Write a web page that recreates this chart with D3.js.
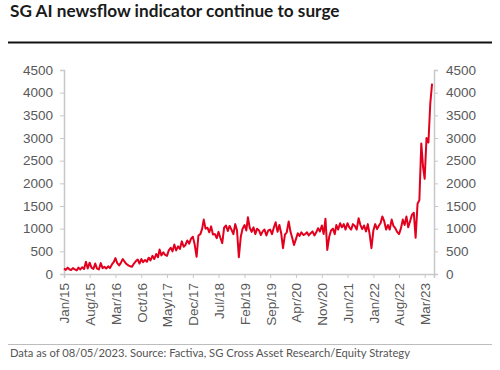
<!DOCTYPE html>
<html>
<head>
<meta charset="utf-8">
<script src="https://cdn.jsdelivr.net/npm/d3@7"></script>
<style>
	body { margin: 0; background: #fff; }
	svg { display: block; }
	.axis text { font-family: "Liberation Sans", Arial, sans-serif; font-size: 13.5px; fill: #595959; }
	.axis path, .axis line { stroke: #c8c8c8; }
</style>
</head>
<body>
<script>
	// chart texts
	var title = "SG AI newsflow indicator continue to surge";
	var footnote = "Data as of 08/05/2023. Source: Factiva, SG Cross Asset Research/Equity Strategy";

	// series starts Jan 2015, two readings per month (1st and 16th)
	var startMonth = "2015-01";
	var values = [
		// 2015
		120, 90, 140, 100, 90, 130, 100, 80, 140, 100, 150, 110,
		270, 120, 250, 140, 110, 230, 120, 100, 240, 130, 160, 120,
		// 2016
		170, 130, 210, 260, 350, 240, 190, 250, 330, 270, 220, 190,
		170, 160, 230, 280, 320, 230, 330, 260, 310, 270, 360, 300,
		// 2017
		400, 330, 440, 370, 540, 410, 480, 420, 400, 520, 580, 500,
		650, 520, 610, 550, 720, 600, 640, 740, 670, 780, 820, 650,
		// 2018
		380, 850, 880, 1000, 1200, 1000, 1020, 920, 1050, 870, 880, 790,
		930, 800, 680, 1020, 1070, 950, 1060, 980, 880, 1100, 960, 370,
		// 2019
		820, 1000, 1080, 960, 1250, 1020, 930, 1030, 880, 1000, 960, 860,
		940, 980, 850, 960, 980, 880, 1020, 1140, 930, 1080, 900, 570,
		// 2020
		870, 920, 1160, 930, 800, 640, 770, 900, 840, 920, 860, 880,
		920, 850, 900, 940, 850, 920, 1010, 940, 1070, 880, 1220, 530,
		// 2021
		820, 960, 1000, 880, 1080, 980, 1120, 1030, 1100, 980, 1120, 1030,
		980, 1100, 1060, 980, 1230, 1080, 990, 1070, 940, 1100, 880, 570,
		// 2022
		960, 1100, 990, 1070, 1120, 1270, 1160, 980, 1080, 980, 1200, 1060,
		1010, 930, 880, 1000, 1200, 1080, 1270, 1030, 1170, 1310, 1350, 800,
		// 2023
		1550, 1630, 2880, 2350, 2100, 3000, 2900, 3750, 4200
	];

	var xTickLabels = ["Jan/15", "Aug/15", "Mar/16", "Oct/16", "May/17", "Dec/17", "Jul/18",
		"Feb/19", "Sep/19", "Apr/20", "Nov/20", "Jun/21", "Jan/22", "Aug/22", "Mar/23"];
	var yTicks = [0, 500, 1000, 1500, 2000, 2500, 3000, 3500, 4000, 4500];

	var width = 500, height = 370;
	var margin = { left: 64, right: 66, top: 70, bottom: 96 };
	var innerW = width - margin.left - margin.right,
		innerH = height - margin.top - margin.bottom;

	var parseMonth = d3.timeParse("%Y-%m"),
		parseTick = d3.timeParse("%b/%y");
	var start = parseMonth(startMonth);

	// build the dated series
	var data = values.map(function (v, i) {
		var d = d3.timeMonth.offset(start, Math.floor(i / 2));
		if (i % 2) d = d3.timeDay.offset(d, 15);
		return { date: d, value: v };
	});

	var svg = d3.select("body").append("svg")
		.attr("width", width)
		.attr("height", height);

	// title and rule
	svg.append("text")
		.attr("x", 10)
		.attr("y", 17)
		.style("font-family", "Lato, 'Open Sans', sans-serif")
		.style("font-weight", "700")
		.style("font-size", "17.2px")
		.style("fill", "#1a1a1a")
		.text(title);

	svg.append("line")
		.attr("x1", 8).attr("x2", 492)
		.attr("y1", 42.5).attr("y2", 42.5)
		.attr("stroke", "#111")
		.attr("stroke-width", 2);

	var g = svg.append("g")
		.attr("transform", "translate(" + margin.left + "," + margin.top + ")");

	var x = d3.scaleTime()
		.domain([start, d3.timeDay.offset(parseTick("May/23"), 16)])
		.range([0, innerW]);

	var y = d3.scaleLinear()
		.domain([0, 4500])
		.range([innerH, 0]);

	var fmt = d3.format("d");

	// left axis
	g.append("g")
		.attr("class", "axis axis--y")
		.call(d3.axisLeft(y).tickValues(yTicks).tickFormat(fmt).tickSizeOuter(0).tickSize(4).tickPadding(7));

	// right axis
	g.append("g")
		.attr("class", "axis axis--y2")
		.attr("transform", "translate(" + innerW + ",0)")
		.call(d3.axisRight(y).tickValues(yTicks).tickFormat(fmt).tickSizeOuter(0).tickSize(4).tickPadding(8));

	// bottom axis with rotated labels
	var xAxis = g.append("g")
		.attr("class", "axis axis--x")
		.attr("transform", "translate(0," + innerH + ")")
		.call(d3.axisBottom(x)
			.tickValues(xTickLabels.map(function (t) { return parseTick(t); }))
			.tickFormat(d3.timeFormat("%b/%y"))
			.tickSizeOuter(0)
			.tickSize(4));

	xAxis.selectAll("text")
		.attr("transform", "rotate(-90)")
		.attr("text-anchor", "end")
		.attr("x", -9)
		.attr("y", 0)
		.attr("dy", "0.36em");

	g.selectAll(".axis .domain").attr("stroke", "#c8c8c8").attr("stroke-width", 1.5);

	// the series line
	var line = d3.line()
		.x(function (d) { return x(d.date); })
		.y(function (d) { return y(d.value); });

	g.append("path")
		.datum(data)
		.attr("fill", "none")
		.attr("stroke", "#e2001e")
		.attr("stroke-width", 2)
		.attr("stroke-linejoin", "round")
		.attr("d", line);

	// footer
	svg.append("line")
		.attr("x1", 8).attr("x2", 492)
		.attr("y1", 344.5).attr("y2", 344.5)
		.attr("stroke", "#bdbdbd")
		.attr("stroke-width", 1);

	svg.append("text")
		.attr("x", 10)
		.attr("y", 357)
		.style("font-family", "Lato, 'Open Sans', sans-serif")
		.style("font-size", "11.2px")
		.style("fill", "#555")
		.text(footnote);
</script>
</body>
</html>
